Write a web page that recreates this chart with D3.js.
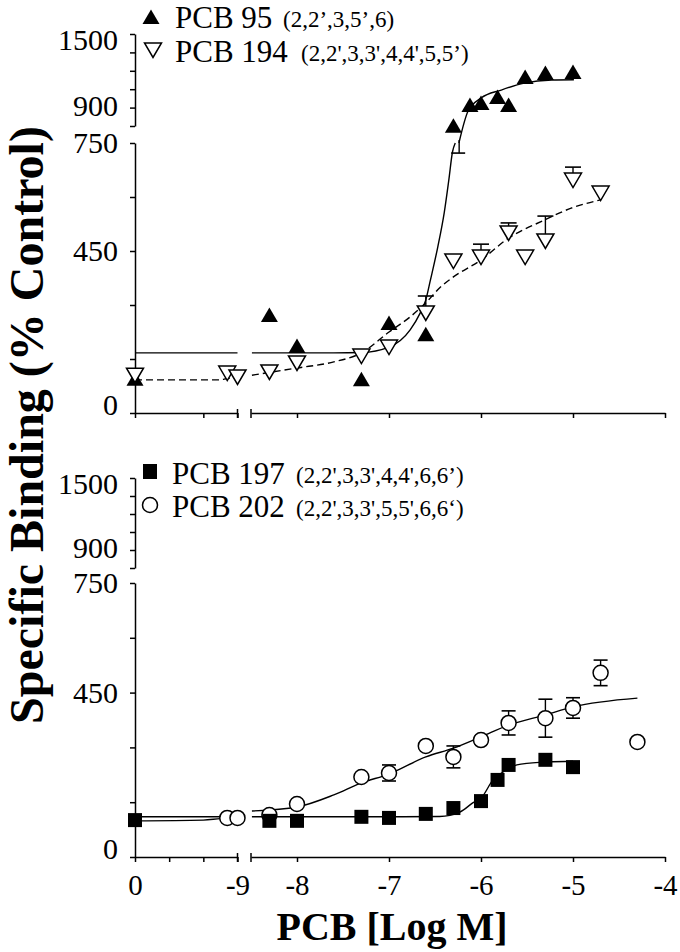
<!DOCTYPE html>
<html><head><meta charset="utf-8">
<script src="https://cdn.jsdelivr.net/npm/d3@7"></script>
<style>body{margin:0;background:#fff}</style>
</head><body>
<svg id="c" width="680" height="952"></svg>
<script>
// ---------------- DATA ----------------
// segment "L" = control / low-dose segment (0 .. -9), "R" = log M segment (-8.5 .. -4)
const yTicksLow = [0, 150, 300, 450, 600, 750];
const yTicksUp = [750, 900, 1050, 1200, 1350, 1500];
const yLabelsLow = [0, 450, 750];
const yLabelsUp = [900, 1500];
const xTicksLeftTop = [0, -6, -9];
const xTicksLeftBottom = [0, -3, -6, -9];
const xTicksRight = [-8, -7, -6, -5, -4];
const xLabelsLeft = [0, -9];
const xLabelsRight = [-8, -7, -6, -5, -4];

// PCB 95 (filled triangles)
const pcb95 = [
  {s:"L", x:0, y:95},
  {s:"R", x:-8.3, y:272}, {s:"R", x:-8.0, y:186}, {s:"R", x:-7.3, y:94},
  {s:"R", x:-7.0, y:250}, {s:"R", x:-6.6, y:219}, {s:"R", x:-6.3, y:752},
  {s:"R", x:-6.12, y:921}, {s:"R", x:-6.0, y:937}, {s:"R", x:-5.82, y:986},
  {s:"R", x:-5.7, y:921}, {s:"R", x:-5.52, y:1150}, {s:"R", x:-5.3, y:1182},
  {s:"R", x:-5.0, y:1190}
];
const pcb95Err = [{s:"R", x:-6.27, y:752, lo:722}];
const pcb95FitL = [{x:0, y:167}, {x:-9, y:167}];
const pcb95FitR = [
  {x:-8.49, y:167}, {x:-7.6, y:167}, {x:-7.3, y:168}, {x:-7.0, y:183}, {x:-6.77, y:231},
  {x:-6.66, y:278}, {x:-6.6, y:314}, {x:-6.55, y:369}, {x:-6.47, y:461},
  {x:-6.4, y:556}, {x:-6.35, y:647}, {x:-6.31, y:725}, {x:-6.28, y:750}
];
const pcb95FitUp = [
  {x:-6.24, y:750}, {x:-6.14, y:872}, {x:-6.0, y:978}, {x:-5.78, y:1043},
  {x:-5.53, y:1100}, {x:-5.23, y:1125}, {x:-4.99, y:1127}
];

// PCB 194 (open inverted triangles), e = upper error bar value
const pcb194 = [
  {s:"L", x:0, y:105}, {s:"L", x:-8.1, y:111}, {s:"L", x:-9, y:100},
  {s:"R", x:-8.3, y:114}, {s:"R", x:-8.0, y:139}, {s:"R", x:-7.3, y:158},
  {s:"R", x:-7.0, y:183}, {s:"R", x:-6.6, y:278, e:325}, {s:"R", x:-6.3, y:422},
  {s:"R", x:-6.0, y:433, e:469}, {s:"R", x:-5.7, y:500, e:528}, {s:"R", x:-5.52, y:433},
  {s:"R", x:-5.3, y:478, e:547}, {s:"R", x:-5.0, y:647, e:683}, {s:"R", x:-4.7, y:611}
];
const pcb194FitL = [{x:0, y:92}, {x:-7.4, y:92}, {x:-8.1, y:96}, {x:-9, y:99}];
const pcb194FitR = [
  {x:-8.49, y:105}, {x:-8.0, y:125}, {x:-7.6, y:142}, {x:-7.3, y:167}, {x:-7.0, y:225},
  {x:-6.77, y:267}, {x:-6.6, y:306}, {x:-6.44, y:350}, {x:-6.3, y:378}, {x:-6.0, y:425},
  {x:-5.7, y:486}, {x:-5.31, y:536}, {x:-5.02, y:569}, {x:-4.7, y:592}
];

// PCB 197 (filled squares)
const pcb197 = [
  {s:"L", x:0, y:101},
  {s:"R", x:-8.3, y:99}, {s:"R", x:-8.0, y:99}, {s:"R", x:-7.3, y:110},
  {s:"R", x:-7.0, y:107}, {s:"R", x:-6.6, y:118}, {s:"R", x:-6.3, y:134},
  {s:"R", x:-6.0, y:153}, {s:"R", x:-5.82, y:211}, {s:"R", x:-5.7, y:252},
  {s:"R", x:-5.3, y:266}, {s:"R", x:-5.0, y:246}
];
const pcb197FitL = [{x:0, y:110}, {x:-9, y:110}];
const pcb197FitR = [
  {x:-8.49, y:110}, {x:-7.0, y:110}, {x:-6.45, y:111}, {x:-6.23, y:123}, {x:-6.09, y:148},
  {x:-5.99, y:164}, {x:-5.87, y:211}, {x:-5.76, y:233}, {x:-5.61, y:252},
  {x:-5.47, y:257}, {x:-5.28, y:260}, {x:-5.0, y:262}
];

// PCB 202 (open circles), e = +/- error
const pcb202 = [
  {s:"L", x:-8.1, y:107}, {s:"L", x:-9, y:107},
  {s:"R", x:-8.3, y:115}, {s:"R", x:-8.0, y:145}, {s:"R", x:-7.3, y:219},
  {s:"R", x:-7.0, y:230, e:22}, {s:"R", x:-6.6, y:304}, {s:"R", x:-6.3, y:274, e:30},
  {s:"R", x:-6.0, y:320, e:10}, {s:"R", x:-5.7, y:367, e:33}, {s:"R", x:-5.3, y:380, e:52},
  {s:"R", x:-5.0, y:408, e:28}, {s:"R", x:-4.7, y:504, e:35}, {s:"R", x:-4.3, y:315}
];
const pcb202FitL = [{x:0, y:99}, {x:-6, y:101}, {x:-7.5, y:105}, {x:-9, y:107}];
const pcb202FitR = [
  {x:-8.49, y:126}, {x:-8.0, y:137}, {x:-7.6, y:170}, {x:-7.3, y:203}, {x:-7.0, y:227},
  {x:-6.6, y:274}, {x:-6.3, y:298}, {x:-6.0, y:329}, {x:-5.7, y:361}, {x:-5.3, y:389},
  {x:-5.0, y:411}, {x:-4.3, y:435}
];

// ---------------- LAYOUT ----------------
const svg = d3.select("#c");
const FONT = "'Liberation Serif','Times New Roman',serif";
const xL = d3.scaleLinear().domain([0, -9]).range([135, 237.5]);
const xR = d3.scaleLinear().domain([-8.5, -4]).range([251, 665]);
const xOf = d => (d.s === "L" ? xL(d.x) : xR(d.x));

const panels = [
  {yLow: d3.scaleLinear().domain([0, 750]).range([413, 143]),
   yUp: d3.scaleLinear().domain([750, 1500]).range([126, 34]),
   leftTicks: xTicksLeftTop, labels: false},
  {yLow: d3.scaleLinear().domain([0, 750]).range([857, 583]),
   yUp: d3.scaleLinear().domain([750, 1500]).range([568, 478]),
   leftTicks: xTicksLeftBottom, labels: true}
];

function yOf(p, v) { return v <= 750 ? p.yLow(v) : p.yUp(v); }

const triUp = "M0,-7.5L8.5,7L-8.5,7Z";
const triDown = "M-8.5,-7L8.5,-7L0,7.5Z";

function drawAxes(p) {
  const g = svg.append("g");
  const x0 = 135, ay = p.yLow(0);
  const dyAdj = {0: -8, 1500: 6, 900: -2, 450: 0, 750: 0};
  [[p.yLow, yTicksLow, yLabelsLow], [p.yUp, yTicksUp, yLabelsUp]].forEach(([sc, tv, lb]) => {
    const ax = g.append("g").attr("transform", `translate(${x0},0)`)
      .call(d3.axisLeft(sc).tickValues(tv).tickSize(5).tickSizeOuter(0).tickPadding(12)
        .tickFormat(d => (lb.includes(d) ? String(d) : "")));
    ax.selectAll("text").attr("font-family", FONT).attr("font-size", 30).attr("fill", "#000")
      .attr("dy", d => (0.32 * 30 + (dyAdj[d] || 0)) + "px");
  });
  const axL = g.append("g").attr("transform", `translate(0,${ay})`)
    .call(d3.axisBottom(xL).tickValues(p.leftTicks).tickSize(5).tickSizeOuter(0).tickPadding(12)
      .tickFormat(d => (p.labels && xLabelsLeft.includes(d) ? String(d) : "")));
  const axR = g.append("g").attr("transform", `translate(0,${ay})`)
    .call(d3.axisBottom(xR).tickValues(xTicksRight).tickSize(5).tickSizeOuter(0).tickPadding(12)
      .tickFormat(d => (p.labels && xLabelsRight.includes(d) ? String(d) : "")));
  [axL, axR].forEach(a => a.selectAll("text").attr("font-family", FONT).attr("font-size", 29).attr("fill", "#000"));
  g.append("line").attr("x1", xL(-9)).attr("x2", xL(-9)).attr("y1", ay - 4).attr("y2", ay + 5);
  g.append("line").attr("x1", xR(-8.5)).attr("x2", xR(-8.5)).attr("y1", ay - 4).attr("y2", ay + 5);
  g.selectAll("path.domain, .tick line, line").attr("stroke", "#000").attr("stroke-width", 1.5);
}

const line = (p, seg) => d3.line().x(d => (seg === "L" ? xL(d.x) : xR(d.x))).y(d => yOf(p, d.y)).curve(d3.curveMonotoneX);

function drawFit(p, data, seg, dashed) {
  svg.append("path").datum(data).attr("d", line(p, seg)).attr("fill", "none")
    .attr("stroke", "#000").attr("stroke-width", 1.4)
    .attr("stroke-dasharray", dashed ? "7,4" : null);
}

// ---------- top panel ----------
const P1 = panels[0], P2 = panels[1];
drawAxes(P1);
drawFit(P1, pcb95FitL, "L", false);
drawFit(P1, pcb95FitR, "R", false);
drawFit(P1, pcb95FitUp, "R", false);
drawFit(P1, pcb194FitL, "L", true);
drawFit(P1, pcb194FitR, "R", true);

pcb95Err.forEach(d => {
  const x = xOf(d) + 3;
  const y1 = P1.yLow(Math.min(d.y, 750)), y2 = P1.yLow(d.lo);
  svg.append("line").attr("x1", x).attr("x2", x).attr("y1", y1 - 3).attr("y2", y2).attr("stroke", "#000").attr("stroke-width", 1.4);
  svg.append("line").attr("x1", x - 8).attr("x2", x + 6).attr("y1", y2).attr("y2", y2).attr("stroke", "#000").attr("stroke-width", 1.6);
});
pcb194.filter(d => d.e).forEach(d => {
  const x = xOf(d), y1 = yOf(P1, d.y), y2 = yOf(P1, d.e);
  svg.append("line").attr("x1", x).attr("x2", x).attr("y1", y1).attr("y2", y2).attr("stroke", "#000").attr("stroke-width", 1.4);
  svg.append("line").attr("x1", x - 8).attr("x2", x + 8).attr("y1", y2).attr("y2", y2).attr("stroke", "#000").attr("stroke-width", 1.6);
});
svg.append("g").selectAll("path").data(pcb95).join("path")
  .attr("d", triUp).attr("transform", d => `translate(${xOf(d)},${yOf(P1, d.y)})`).attr("fill", "#000");
svg.append("g").selectAll("path").data(pcb194).join("path")
  .attr("d", triDown).attr("transform", d => `translate(${xOf(d)},${yOf(P1, d.y)})`)
  .attr("fill", "#fff").attr("stroke", "#000").attr("stroke-width", 1.5);

// ---------- bottom panel ----------
drawAxes(P2);
drawFit(P2, pcb197FitL, "L", false);
drawFit(P2, pcb197FitR, "R", false);
drawFit(P2, pcb202FitL, "L", false);
drawFit(P2, pcb202FitR, "R", false);
pcb202.filter(d => d.e).forEach(d => {
  const x = xOf(d), yt = yOf(P2, d.y + d.e), yb = yOf(P2, d.y - d.e);
  svg.append("line").attr("x1", x).attr("x2", x).attr("y1", yt).attr("y2", yb).attr("stroke", "#000").attr("stroke-width", 1.4);
  [yt, yb].forEach(yy => svg.append("line").attr("x1", x - 7).attr("x2", x + 7).attr("y1", yy).attr("y2", yy).attr("stroke", "#000").attr("stroke-width", 1.6));
});
svg.append("g").selectAll("circle").data(pcb202).join("circle")
  .attr("cx", d => xOf(d)).attr("cy", d => yOf(P2, d.y)).attr("r", 7.5)
  .attr("fill", "#fff").attr("stroke", "#000").attr("stroke-width", 1.5);
svg.append("g").selectAll("rect").data(pcb197).join("rect")
  .attr("x", d => xOf(d) - 7).attr("y", d => yOf(P2, d.y) - 7).attr("width", 14).attr("height", 14).attr("fill", "#000");

// ---------- legends ----------
function legendText(x, y, main, sub, subX) {
  svg.append("text").attr("x", x).attr("y", y).attr("font-family", FONT).attr("font-size", 31).text(main);
  svg.append("text").attr("x", subX).attr("y", y - 1).attr("font-family", FONT).attr("font-size", 23).text(sub);
}
svg.append("path").attr("d", triUp).attr("transform", "translate(151,17)").attr("fill", "#000");
legendText(175, 28, "PCB 95", "(2,2\u2019,3,5\u2019,6)", 283);
svg.append("path").attr("d", triDown).attr("transform", "translate(153,50)").attr("fill", "#fff").attr("stroke", "#000").attr("stroke-width", 1.5);
legendText(175, 62, "PCB 194", "(2,2',3,3',4,4',5,5\u2019)", 301);
svg.append("rect").attr("x", 143).attr("y", 464).attr("width", 14).attr("height", 15).attr("fill", "#000");
legendText(172, 484, "PCB 197", "(2,2',3,3',4,4',6,6\u2019)", 296);
svg.append("circle").attr("cx", 150).attr("cy", 505).attr("r", 7.5).attr("fill", "#fff").attr("stroke", "#000").attr("stroke-width", 1.5);
legendText(172, 517, "PCB 202", "(2,2',3,3',5,5',6,6\u2018)", 296);

// ---------- axis titles ----------
svg.append("text").attr("x", 392).attr("y", 940).attr("text-anchor", "middle")
  .attr("font-family", FONT).attr("font-weight", "bold").attr("font-size", 40).text("PCB [Log M]");
svg.append("text").attr("transform", "translate(43,425) rotate(-90)").attr("text-anchor", "middle")
  .attr("font-family", FONT).attr("font-weight", "bold").attr("font-size", 48).text("Specific Binding (% Control)");
</script>
</body></html>
